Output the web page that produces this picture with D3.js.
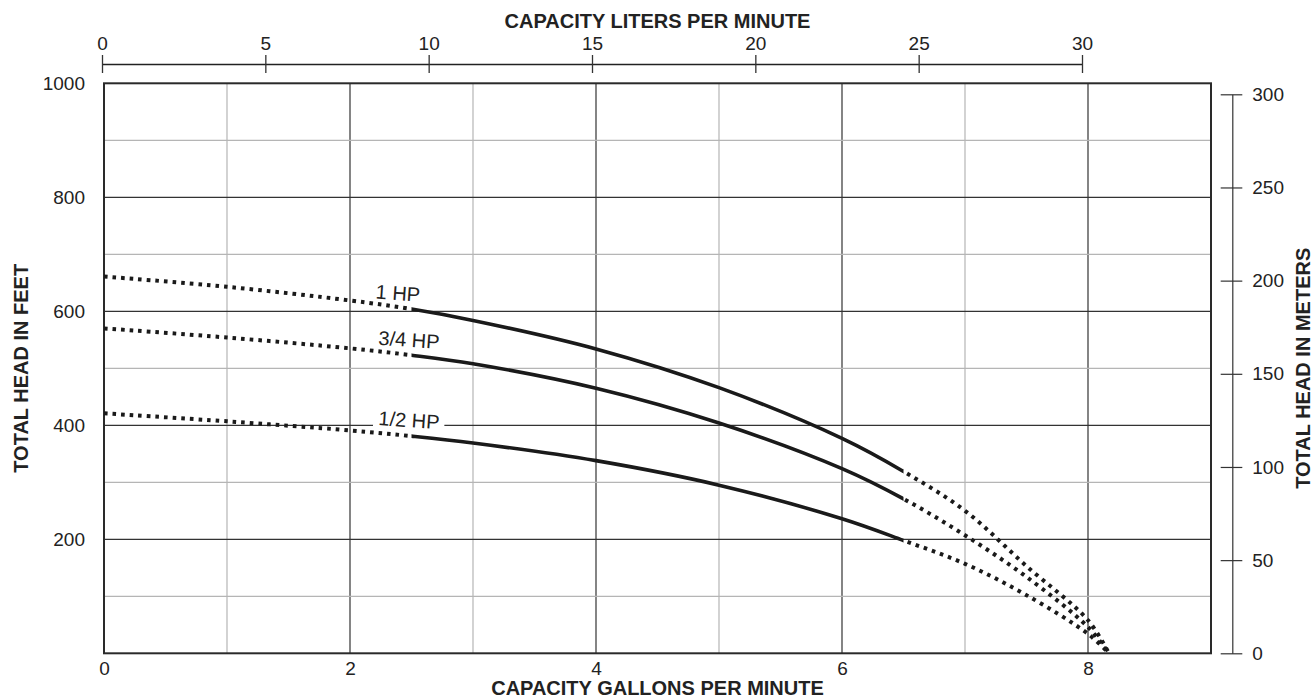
<!DOCTYPE html>
<html>
<head>
<meta charset="utf-8">
<script src="https://cdn.jsdelivr.net/npm/d3@7"></script>
<style>
  body { margin: 0; background: #fff; }
  svg text { font-family: "Liberation Sans", Arial, Helvetica, sans-serif; fill: #222; }
</style>
</head>
<body>
<div id="chart"></div>
<script>
// pump curves (flow in GPM, head in feet)
var gpm      = [0, 1, 2, 2.5, 3, 4, 5, 6, 6.5, 7, 7.5, 8, 8.17];
var head1hp  = [661, 643, 619, 604, 584, 534, 466, 377, 319, 250, 153, 58, 0];
var head34hp = [570, 554, 535, 523, 508, 465, 404, 324, 271, 207, 134, 46, 0];
var head12hp = [421, 407, 391, 381, 369, 338, 295, 236, 198, 157, 102, 34, 0];
var seriesNames = ["1 HP", "3/4 HP", "1/2 HP"];
var solidFrom = 2.5, solidTo = 6.5;

var gpmTicks = [0, 2, 4, 6, 8];
var feetTicks = [200, 400, 600, 800, 1000];
var lpmTicks = [0, 5, 10, 15, 20, 25, 30];
var meterTicks = [0, 50, 100, 150, 200, 250, 300];

(function() {
    var W = 1314, H = 698;
    var plotL = 104, plotR = 1211, plotT = 83.3, plotB = 653.3;

    var svg = d3.select("#chart").append("svg").attr("width", W).attr("height", H);

    var x = d3.scaleLinear().domain([0, 9]).range([plotL, plotR]);
    var y = d3.scaleLinear().domain([0, 1000]).range([plotB, plotT]);
    var xl = d3.scaleLinear().domain([0, 30]).range([102, 1082]);
    var ym = d3.scaleLinear().domain([0, 300]).range([plotB, 94.3]);

    // grid
    var grid = svg.append("g");
    grid.selectAll("line.v").data(d3.range(1, 9)).enter().append("line")
        .attr("x1", function(d) { return x(d); }).attr("x2", function(d) { return x(d); })
        .attr("y1", plotT).attr("y2", plotB)
        .attr("stroke", function(d) { return d % 2 ? "#b5b5b5" : "#333"; })
        .attr("stroke-width", 1.2);
    grid.selectAll("line.h").data(d3.range(100, 1000, 100)).enter().append("line")
        .attr("x1", plotL).attr("x2", plotR)
        .attr("y1", function(d) { return y(d); }).attr("y2", function(d) { return y(d); })
        .attr("stroke", function(d) { return d % 200 ? "#b5b5b5" : "#333"; })
        .attr("stroke-width", 1.2);

    // plot border
    svg.append("rect").attr("x", plotL).attr("y", plotT)
        .attr("width", plotR - plotL).attr("height", plotB - plotT)
        .attr("fill", "none").attr("stroke", "#2a2a2a").attr("stroke-width", 2);

    // bottom axis (GPM)
    var gx = svg.append("g").attr("transform", "translate(0," + plotB + ")")
        .call(d3.axisBottom(x).tickValues(gpmTicks).tickSize(0).tickPadding(8));
    gx.select(".domain").remove();
    gx.selectAll("text").style("font-size", "19px");

    // left axis (feet)
    var gy = svg.append("g").attr("transform", "translate(" + plotL + ",0)")
        .call(d3.axisLeft(y).tickValues(feetTicks).tickFormat(d3.format("d")).tickSize(0).tickPadding(19));
    gy.select(".domain").remove();
    gy.selectAll("text").style("font-size", "19px");

    // top axis (liters per minute)
    var gt = svg.append("g").attr("transform", "translate(0,64)")
        .call(d3.axisTop(xl).tickValues(lpmTicks).tickSize(9).tickSizeOuter(0).tickPadding(5));
    gt.selectAll(".tick line").attr("y1", 9).attr("stroke", "#333").attr("stroke-width", 1.3);
    gt.select(".domain").attr("stroke", "#222").attr("stroke-width", 1.3);
    gt.selectAll("text").style("font-size", "19px");

    // right axis (meters)
    var gr = svg.append("g").attr("transform", "translate(1232.3,0)")
        .call(d3.axisRight(ym).tickValues(meterTicks).tickSize(10).tickSizeOuter(0).tickPadding(10));
    gr.selectAll(".tick line").attr("x1", -11.6).attr("stroke", "#333").attr("stroke-width", 1.2);
    gr.select(".domain").attr("stroke", "#333").attr("stroke-width", 1.2);
    gr.selectAll("text").style("font-size", "19px");

    // axis titles
    var cx = (plotL + plotR) / 2, cy = (plotT + plotB) / 2;
    svg.append("text").attr("x", cx).attr("y", 28).attr("text-anchor", "middle")
        .style("font-size", "20px").style("font-weight", "bold").text("CAPACITY LITERS PER MINUTE");
    svg.append("text").attr("x", cx).attr("y", 695).attr("text-anchor", "middle")
        .style("font-size", "20px").style("font-weight", "bold").text("CAPACITY GALLONS PER MINUTE");
    svg.append("text").attr("transform", "translate(28," + cy + ") rotate(-90)").attr("text-anchor", "middle")
        .style("font-size", "20px").style("font-weight", "bold").text("TOTAL HEAD IN FEET");
    svg.append("text").attr("transform", "translate(1310," + cy + ") rotate(-90)").attr("text-anchor", "middle")
        .style("font-size", "20px").style("font-weight", "bold").text("TOTAL HEAD IN METERS");

    // clip regions: solid inside the rated range, dotted outside
    var defs = svg.append("defs");
    defs.append("clipPath").attr("id", "clip-solid").append("rect")
        .attr("x", x(solidFrom)).attr("y", 0)
        .attr("width", x(solidTo) - x(solidFrom)).attr("height", H);
    var outer = defs.append("clipPath").attr("id", "clip-dotted");
    outer.append("rect").attr("x", 0).attr("y", 0).attr("width", x(solidFrom)).attr("height", H);
    outer.append("rect").attr("x", x(solidTo)).attr("y", 0).attr("width", W - x(solidTo)).attr("height", H);

    var line = d3.line()
        .x(function(d) { return x(d.q); })
        .y(function(d) { return y(d.h); })
        .curve(d3.curveCatmullRom.alpha(0.5));

    var heads = [head1hp, head34hp, head12hp];
    var curves = svg.append("g");
    heads.forEach(function(hs) {
        var pts = gpm.map(function(q, i) { return {q: q, h: hs[i]}; });
        curves.append("path")
            .attr("d", line(pts))
            .attr("clip-path", "url(#clip-dotted)")
            .attr("fill", "none")
            .attr("stroke", "#1a1a1a")
            .attr("stroke-width", 4)
            .attr("stroke-dasharray", "3.6,5");
        curves.append("path")
            .attr("d", line(pts))
            .attr("clip-path", "url(#clip-solid)")
            .attr("fill", "none")
            .attr("stroke", "#1a1a1a")
            .attr("stroke-width", 3.6);
    });

    // curve labels
    var labelAt = [[2.39, 632], [2.48, 550], [2.48, 409]];
    seriesNames.forEach(function(name, i) {
        var g = svg.append("g")
            .attr("transform", "translate(" + x(labelAt[i][0]) + "," + y(labelAt[i][1]) + ") rotate(4)");
        var t = g.append("text").attr("text-anchor", "middle").attr("dy", "0.35em")
            .style("font-size", "20px").text(name);
        if (i === 2) {
            var bb = t.node().getBBox();
            g.insert("rect", "text").attr("x", bb.x - 5).attr("y", bb.y)
                .attr("width", bb.width + 10).attr("height", bb.height).attr("fill", "#fff");
        }
    });
})();
</script>
</body>
</html>
